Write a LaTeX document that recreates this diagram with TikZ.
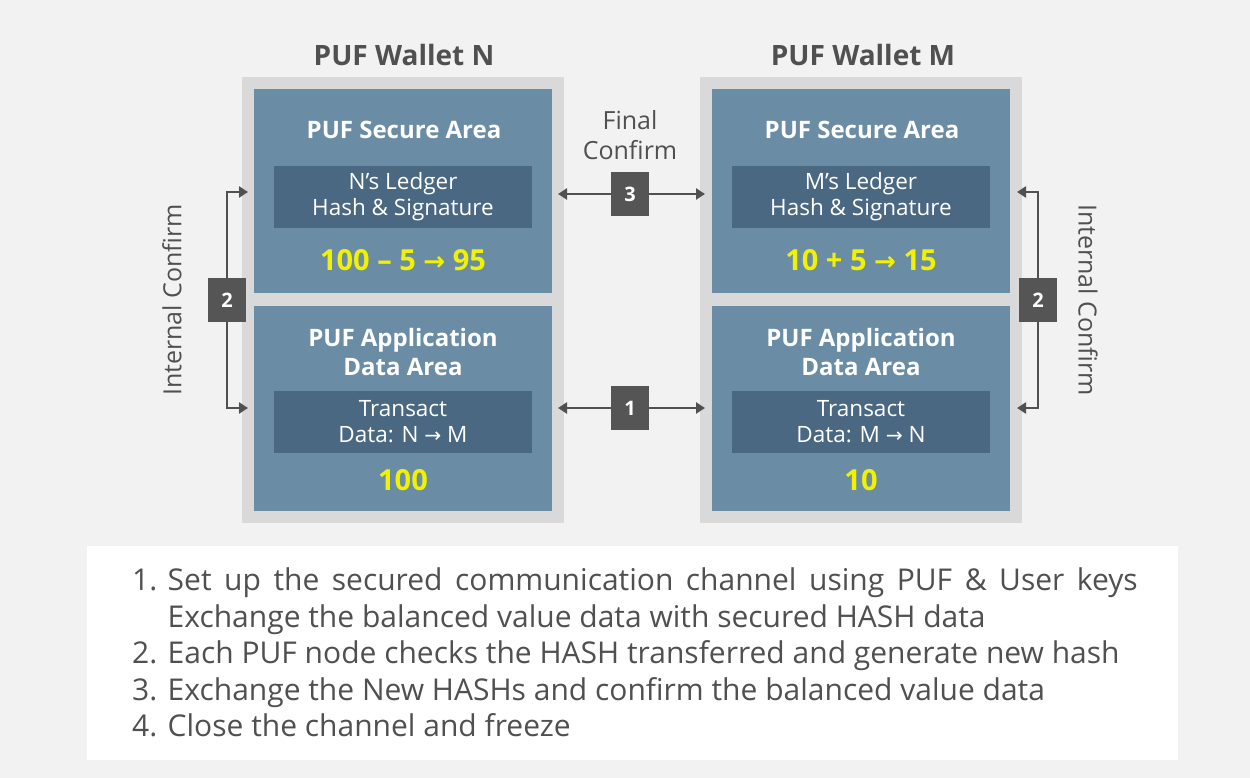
\documentclass[tikz,border=0pt]{standalone}
\usepackage{fontspec}
\setmainfont{Open Sans}
\newfontfamily\arrfont{DejaVu Sans}
\usetikzlibrary{arrows.meta}
\definecolor{bg}{HTML}{F2F2F2}
\definecolor{framegray}{HTML}{D9D9D9}
\definecolor{areablue}{HTML}{6A8CA5}
\definecolor{darkblue}{HTML}{4A6881}
\definecolor{yel}{HTML}{F2F200}
\definecolor{boxgray}{HTML}{555555}
\definecolor{txtgray}{HTML}{505050}
\newcommand{\ar}{{\arrfont\fontsize{0.9em}{1em}\selectfont →}}
\tikzset{
  frame/.style={rectangle, fill=framegray, minimum width=322, minimum height=446, inner sep=0},
  area/.style={rectangle, fill=areablue, minimum width=298, inner sep=0},
  inbox/.style={rectangle, fill=darkblue, minimum width=258, minimum height=62, inner sep=0, text=white, align=center, font=\fontsize{22.5}{26}\selectfont},
  areatitle/.style={text=white, align=center, font=\bfseries\fontsize{24}{29}\selectfont},
  value/.style={text=yel, font=\bfseries\fontsize{29}{32}\selectfont},
  numbox/.style={rectangle, fill=boxgray, minimum width=38, minimum height=44, inner sep=0, text=white, font=\bfseries\fontsize{20}{24}\selectfont},
  conn/.style={draw=txtgray, line width=2.6pt, -{Triangle[length=9pt,width=11pt]}},
  wtitle/.style={text=txtgray, font=\bfseries\fontsize{28}{32}\selectfont},
  lbl/.style={text=txtgray, align=center, font=\fontsize{25}{30}\selectfont}
}
\begin{document}
\begin{tikzpicture}[x=1pt,y=-1pt]
\fill[bg] (0,0) rectangle (1250,778);
\useasboundingbox (0,0) rectangle (1250,778);

% Wallet N
\node[wtitle] (tN) at (404,55) {PUF Wallet N};
\node[frame] (wN) at (403,300) {};
\node[area, minimum height=204] (sN) at (403,191) {};
\node[areatitle] (sNt) at (404,130) {PUF Secure Area};
\node[inbox] (lN) at (403,197) {N’s Ledger\\Hash \& Signature};
\node[value] (vN) at (403,260) {100 – 5 \ar\ 95};
\node[area, minimum height=205] (aN) at (403,408.5) {};
\node[areatitle] (aNt) at (403,352) {PUF Application\\Data Area};
\node[inbox] (xN) at (403,422) {Transact\\Data: N \ar\ M};
\node[value] (dN) at (403,480) {100};

% Wallet M
\node[wtitle] (tM) at (863,55) {PUF Wallet M};
\node[frame] (wM) at (861,300) {};
\node[area, minimum height=204] (sM) at (861,191) {};
\node[areatitle] (sMt) at (862,130) {PUF Secure Area};
\node[inbox] (lM) at (861,197) {M’s Ledger\\Hash \& Signature};
\node[value] (vM) at (861,260) {10 + 5 \ar\ 15};
\node[area, minimum height=205] (aM) at (861,408.5) {};
\node[areatitle] (aMt) at (861,352) {PUF Application\\Data Area};
\node[inbox] (xM) at (861,422) {Transact\\Data: M \ar\ N};
\node[value] (dM) at (861,480) {10};

% Final confirm
\node[lbl] (fc) at (630,135) {Final\\Confirm};
\node[numbox] (b3) at (630,194) {3};
\coordinate (f3L) at (558,194);
\coordinate (f3R) at (705,194);
\draw[conn] (b3.west) -- (f3L);
\draw[conn] (b3.east) -- (f3R);

% step 1
\node[numbox] (b1) at (630,408) {1};
\coordinate (f1L) at (558,408);
\coordinate (f1R) at (705,408);
\draw[conn] (b1.west) -- (f1L);
\draw[conn] (b1.east) -- (f1R);

% Internal confirm left
\node[numbox] (b2L) at (227,300) {2};
\coordinate (iLt) at (248,192);
\coordinate (iLb) at (248,408);
\draw[conn] (b2L.north) |- (iLt);
\draw[conn] (b2L.south) |- (iLb);
\node[lbl, rotate=90] (icL) at (172,300) {Internal Confirm};

% Internal confirm right
\node[numbox] (b2R) at (1038,300) {2};
\coordinate (iRt) at (1017,192);
\coordinate (iRb) at (1017,408);
\draw[conn] (b2R.north) |- (iRt);
\draw[conn] (b2R.south) |- (iRb);
\node[lbl, rotate=-90] (icR) at (1088,300) {Internal Confirm};

% Notes
\node[rectangle, fill=white, minimum width=1091, minimum height=214, inner sep=0] (notes) at (632.5,653) {};
\node[anchor=north west, align=left, text=txtgray, inner sep=0, font=\fontsize{30}{36.5}\selectfont] (ntext) at (132,568)
{1. \makebox[970pt][s]{Set up the secured communication channel using PUF \& User keys}\\
\phantom{1. }Exchange the balanced value data with secured HASH data\\
2. Each PUF node checks the HASH transferred and generate new hash\\
3. Exchange the New HASHs and confirm the balanced value data\\
4. Close the channel and freeze};
\end{tikzpicture}
\end{document}
